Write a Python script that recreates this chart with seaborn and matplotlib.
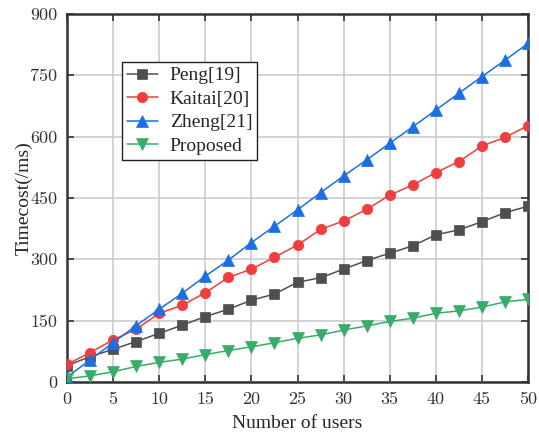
import numpy as np
import pandas as pd
import matplotlib
matplotlib.use("Agg")
import matplotlib.pyplot as plt
import seaborn as sns

users = [0, 2.5, 5, 7.5, 10, 12.5, 15, 17.5, 20, 22.5, 25, 27.5, 30, 32.5, 35, 37.5, 40, 42.5, 45, 47.5, 50]
peng = [40, 62, 80, 99, 119, 139, 160, 178, 200, 215, 244, 255, 276, 297, 315, 333, 360, 372, 392, 414, 430]
kaitai = [43, 72, 103, 129, 168, 188, 218, 256, 276, 305, 335, 373, 394, 422, 457, 482, 512, 539, 577, 598, 627]
zheng = [12, 54, 96, 138, 178, 217, 259, 298, 341, 381, 421, 463, 504, 543, 584, 624, 665, 706, 747, 787, 828]
proposed = [8, 15, 25, 38, 48, 56, 67, 77, 86, 96, 107, 115, 127, 137, 148, 156, 168, 174, 183, 196, 202]
methods = ["Peng[19]", "Kaitai[20]", "Zheng[21]", "Proposed"]
xticks = [0, 5, 10, 15, 20, 25, 30, 35, 40, 45, 50]
yticks = [0, 150, 300, 450, 600, 750, 900]

colors = ["#4f4f4f", "#ee3e3e", "#1c6fe0", "#38ad6a"]
markers = ["s", "o", "^", "v"]
msizes = [6.5, 7.5, 8.5, 8.5]

df = pd.concat([
    pd.DataFrame({"users": users, "cost": vals, "method": m})
    for m, vals in zip(methods, [peng, kaitai, zheng, proposed])
], ignore_index=True)

sns.set_style("ticks")
plt.rcParams["font.family"] = ["Liberation Serif", "DejaVu Serif"]

fig = plt.figure(figsize=(5.39, 4.34), dpi=100)
ax = fig.add_axes([67/539, 1-382/434, 461/539, 368/434])

for m, c, mk, ms in zip(methods, colors, markers, msizes):
    sub = df[df["method"] == m]
    sns.lineplot(data=sub, x="users", y="cost", ax=ax, color=c, marker=mk,
                 markersize=ms, markeredgecolor=c, markeredgewidth=0.5,
                 linewidth=1.1, label=m, legend=False, zorder=3)

ax.set_xlim(0, 50)
ax.set_ylim(0, 900)
ax.set_xticks(xticks)
ax.set_yticks(yticks)
ax.grid(True, color="#cccccc", linewidth=1.2, zorder=0)
ax.set_axisbelow(True)
ax.tick_params(direction="in", length=5, width=1.2, top=True, right=True,
               colors="#333333", labelcolor="#333333", labelsize=13, pad=7)
for lab in ax.get_xticklabels() + ax.get_yticklabels():
    lab.set_fontfamily(["cmr10", "DejaVu Serif"])
for s in ax.spines.values():
    s.set_linewidth(1.8)
    s.set_color("#333333")
    s.set_visible(True)

ax.set_xlabel("Number of users", fontsize=14, labelpad=6)
ax.set_ylabel("Timecost(/ms)", fontsize=14, labelpad=-2)

handles = ax.get_lines()[:4]
leg = ax.legend(handles=handles, labels=methods, loc="upper left",
                bbox_to_anchor=((122-67)/461, (382-62)/368), fontsize=14,
                frameon=True, fancybox=False, framealpha=1, edgecolor="#222222",
                handlelength=1.6, labelspacing=0.3, borderpad=0.25, handletextpad=0.6,
                borderaxespad=0)
leg.get_frame().set_linewidth(1.0)

fig.savefig("out.png", dpi=100)
